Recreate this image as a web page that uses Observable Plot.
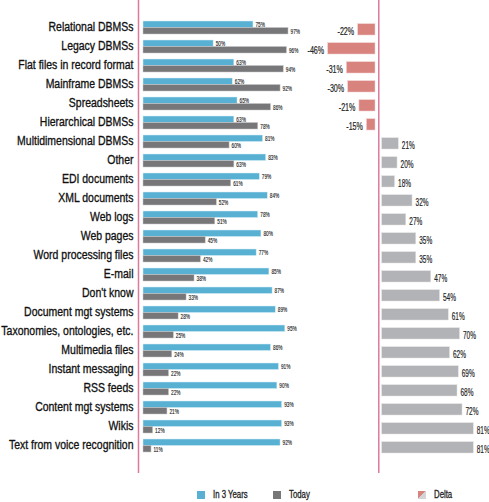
<!DOCTYPE html>
<html>
<head>
<meta charset="utf-8">
<script src="https://cdn.jsdelivr.net/npm/d3@7"></script>
<script src="https://cdn.jsdelivr.net/npm/@observablehq/plot@0.6"></script>
<style>
  html, body { margin: 0; padding: 0; background: #fff; }
  #wrap { position: relative; width: 489px; height: 502px; overflow: hidden; font-family: 'Liberation Sans Narrow', 'Liberation Sans', sans-serif; }
  #wrap > svg { position: absolute; left: 0; top: 0; }
  .lg { position: absolute; font-size: 10px; line-height: 10px; color: #222; white-space: nowrap; transform-origin: 0 0; -webkit-text-stroke: 0.3px #222; }
  .sw { position: absolute; width: 8px; height: 8px; }
</style>
</head>
<body>
<div id="wrap"></div>
<script>
const categories = [
  "Relational DBMSs", "Legacy DBMSs", "Flat files in record format", "Mainframe DBMSs",
  "Spreadsheets", "Hierarchical DBMSs", "Multidimensional DBMSs", "Other",
  "EDI documents", "XML documents", "Web logs", "Web pages", "Word processing files",
  "E-mail", "Don't know", "Document mgt systems", "Taxonomies, ontologies, etc.",
  "Multimedia files", "Instant messaging", "RSS feeds", "Content mgt systems",
  "Wikis", "Text from voice recognition"
];
const in3Years = [75, 50, 63, 62, 65, 63, 81, 83, 79, 84, 78, 80, 77, 85, 87, 89, 95, 86, 91, 90, 93, 93, 92];
const today    = [97, 96, 94, 92, 86, 78, 60, 63, 61, 52, 51, 45, 42, 38, 33, 28, 25, 24, 22, 22, 21, 12, 11];
const delta    = [-22, -46, -31, -30, -21, -15, 21, 20, 18, 32, 27, 35, 35, 47, 54, 61, 70, 62, 69, 68, 72, 81, 81];
const seriesNames = ["In 3 Years", "Today", "Delta"];

const colors = { future: "#58b1d3", today: "#77777a", neg: "#d9837f", pos: "#b2b3b6", line: "#dc7a9c" };

const rows = categories.map((c, i) => ({ cat: c, future: in3Years[i], today: today[i], delta: delta[i] }));
const neg = rows.filter(d => d.delta < 0);
const pos = rows.filter(d => d.delta >= 0);

const yScale = { domain: categories, range: [14, 458], paddingInner: 0.336, paddingOuter: 0, axis: null };
const font = "'Liberation Sans Narrow', 'Liberation Sans', sans-serif";

const left = Plot.plot({
  width: 489, height: 480,
  marginLeft: 133.5, marginRight: 196.2, marginTop: 0, marginBottom: 7,
  x: { domain: [0, 100], axis: null },
  y: yScale,
  style: { fontFamily: font, background: "transparent", overflow: "visible" },
  marks: [
    Plot.ruleX([0], { dx: 4.5, stroke: colors.line, strokeWidth: 1.5 }),
    Plot.barX(rows, { x: "future", y: "cat", fill: colors.future, insetLeft: 9.5, insetBottom: 6.5, stroke: "#d6eef7", strokeWidth: 0.5 }),
    Plot.barX(rows, { x: "today", y: "cat", fill: colors.today, insetLeft: 9.5, insetTop: 6.5, stroke: "#c8c8ca", strokeWidth: 0.5 }),
    Plot.text(rows, { y: "cat", text: "cat", frameAnchor: "left", textAnchor: "end", dx: -0.5, dy: -1.5, fontSize: 13.5, fill: "#111", stroke: "#111", strokeWidth: 0.35, fontFamily: font }),
    Plot.text(rows, { x: "future", y: "cat", text: d => d.future + "%", textAnchor: "start", dx: 2, dy: -3.8, fontSize: 7.5, fill: "#222", stroke: "#222", strokeWidth: 0.15, fontFamily: font }),
    Plot.text(rows, { x: "today", y: "cat", text: d => d.today + "%", textAnchor: "start", dx: 2, dy: 3.5, fontSize: 7.5, fill: "#222", stroke: "#222", strokeWidth: 0.15, fontFamily: font })
  ]
});

const right = Plot.plot({
  width: 489, height: 480,
  marginLeft: 315.8, marginRight: 4.5, marginTop: 0, marginBottom: 7,
  x: { domain: [-50, 85], axis: null },
  y: yScale,
  style: { fontFamily: font, background: "transparent", overflow: "visible" },
  marks: [
    Plot.ruleX([0], { stroke: colors.line, strokeWidth: 1.5 }),
    Plot.barX(neg, { x: "delta", y: "cat", fill: colors.neg, dx: 6.9, insetRight: 10.2, insetTop: 2.7, insetBottom: -1, stroke: "#f0d0ce", strokeWidth: 0.5 }),
    Plot.barX(pos, { x: "delta", y: "cat", fill: colors.pos, dx: -6.25, insetLeft: 9.65, insetTop: 2.7, insetBottom: -1, stroke: "#e2e2e3", strokeWidth: 0.5 }),
    Plot.text(neg, { x: "delta", y: "cat", text: d => d.delta + "%", textAnchor: "end", dx: 2.9, dy: 3.5, fontSize: 11, fill: "#222", stroke: "#222", strokeWidth: 0.2, fontFamily: font }),
    Plot.text(pos, { x: "delta", y: "cat", text: d => d.delta + "%", textAnchor: "start", dx: -3.25, dy: 3, fontSize: 11.5, fill: "#222", stroke: "#222", strokeWidth: 0.2, fontFamily: font })
  ]
});

const wrap = document.getElementById("wrap");
wrap.appendChild(left);
wrap.appendChild(right);

// Horizontally condense text groups so a reference string gets its target width
function condense(group, refText, target) {
  if (!group) return;
  const texts = Array.from(group.querySelectorAll("text"));
  const ref = texts.find(t => t.textContent === refText) || texts[0];
  const w = ref.getComputedTextLength();
  const sx = w > 0 ? target / w : 1;
  texts.forEach(t => {
    const x = parseFloat(t.getAttribute("x")) || 0;
    const tr = t.getAttribute("transform") || "";
    t.setAttribute("transform", `${tr} translate(${x},0) scale(${sx},1) translate(${-x},0)`);
  });
}
const lt = left.querySelectorAll('g[aria-label="text"]');
condense(lt[0], "Relational DBMSs", 85);
condense(lt[1], "75%", 9.5);
condense(lt[2], "97%", 9.5);
const rt = right.querySelectorAll('g[aria-label="text"]');
condense(rt[0], "-22%", 16.7);
condense(rt[1], "21%", 13);

// Legend
const legendItems = [
  { name: seriesNames[0], x: 197, bg: colors.future },
  { name: seriesNames[1], x: 273, bg: colors.today },
  { name: seriesNames[2], x: 418, bg: `linear-gradient(to bottom right, ${colors.neg} 50%, #d4d4d6 50%)` }
];
const lbls = [];
legendItems.forEach(it => {
  const sw = document.createElement("div");
  sw.className = "sw";
  sw.style.left = it.x + "px";
  sw.style.top = "491px";
  sw.style.background = it.bg;
  wrap.appendChild(sw);
  const lb = document.createElement("div");
  lb.className = "lg";
  lb.style.left = (it.x + 16) + "px";
  lb.style.top = "490px";
  lb.textContent = it.name;
  wrap.appendChild(lb);
  lbls.push(lb);
});
const lw = lbls[0].getBoundingClientRect().width;
const lsx = lw > 0 ? 34.7 / lw : 1;
lbls.forEach(lb => { lb.style.transform = `scaleX(${lsx})`; });
</script>
</body>
</html>
